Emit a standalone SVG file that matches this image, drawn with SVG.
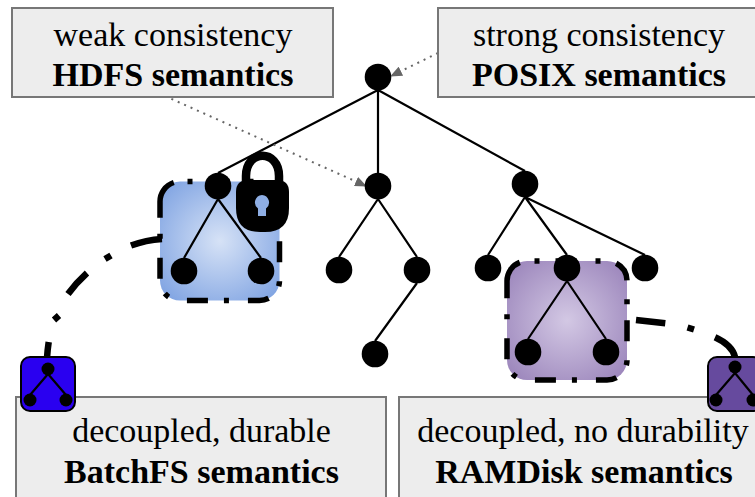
<svg xmlns="http://www.w3.org/2000/svg" width="755" height="497" viewBox="0 0 755 497">
<style>
.box{fill:#ededed;stroke:#777777;stroke-width:2}
.t{font-family:"Liberation Serif","Times New Roman",serif;font-size:34px;text-anchor:middle;fill:#000}
.b{font-weight:bold}
.e{stroke:#000;stroke-width:2.2;fill:none}
.n{fill:#000}
.dd{fill:none;stroke:#000;stroke-width:5.5;stroke-dasharray:5 16 21 19 5 16 21 19 5 16 21 19 5 16 21 19 5 16 21 19 5 16 21 19 5 16 41 18}
.cu{fill:none;stroke:#000;stroke-width:6.5}
.dot{fill:none;stroke:#666;stroke-width:2;stroke-dasharray:2 5}
</style>
<defs>
<radialGradient id="blue" r="0.66"><stop offset="0" stop-color="#d6e2f6"/><stop offset="1" stop-color="#7fa3e2"/></radialGradient>
<radialGradient id="purple" r="0.66"><stop offset="0" stop-color="#d3c8e4"/><stop offset="1" stop-color="#9b85bb"/></radialGradient>
<marker id="ah" markerWidth="12" markerHeight="10" refX="11" refY="5" orient="auto" markerUnits="userSpaceOnUse"><path d="M0 0L12 5L0 10Z" fill="#666"/></marker>
</defs>
<g id="region-blue"><rect x="160" y="181.5" width="119.5" height="119" rx="20" fill="url(#blue)"/><path class="dd" d="M187.5 181.5H259.5A20 20 0 0 1 279.5 201.5V280.5A20 20 0 0 1 259.5 300.5H180A20 20 0 0 1 160 280.5V201.5A20 20 0 0 1 180 181.5Z"/></g>
<g id="region-purple"><rect x="507" y="261" width="120" height="119" rx="20" fill="url(#purple)"/><path class="dd" d="M534.5 261H607A20 20 0 0 1 627 281V360A20 20 0 0 1 607 380H527A20 20 0 0 1 507 360V281A20 20 0 0 1 527 261Z"/></g>
<g id="connectors">
<path class="e" d="M378 90L218 173M378 90V173M378 90L525 171M218 199L184 258M218 199L261 258M378 199L339 257M378 199L417 257M417 283L375 341M525 197L488 255M525 197L567 255M525 197L645 255M567 281L528 339M567 281L606 339"/>
<path class="dot" d="M438 53L391 76" marker-end="url(#ah)"/>
<path class="dot" d="M165 96L366 186" marker-end="url(#ah)"/>
<path class="cu" d="M162 239Q146 240 131 245.5M111 255.5L105 259M87 273Q76 283 68 294M59 315.5L54 320M48.7 342Q47.5 350 47 358"/>
<path class="cu" d="M636 320L665.3 323.3M687.5 327.5L694 329.5M715 337.3Q732 345 735 357"/>
</g>
<g id="lock">
<path d="M246 194V176C246 149 279 149 279 176V194" fill="none" stroke="#000" stroke-width="8.5"/>
<path d="M248 180H277Q289 180 289 192V208Q289 232 265 232H260Q236 232 236 208V192Q236 180 248 180Z" class="n"/>
<path d="M262 195a7.5 7.5 0 0 1 4 13.5v7.5h-8v-7.5a7.5 7.5 0 0 1 4-13.5Z" fill="#8eaee4"/>
</g>
<g id="node-root"><circle cx="378" cy="77" r="13.3" class="n"/></g>
<g id="node-a"><circle cx="218" cy="186" r="13.3" class="n"/></g>
<g id="node-b"><circle cx="378" cy="186" r="13.3" class="n"/></g>
<g id="node-c"><circle cx="525" cy="184" r="13.3" class="n"/></g>
<g id="node-a1"><circle cx="184" cy="271" r="13.3" class="n"/></g>
<g id="node-a2"><circle cx="261" cy="271" r="13.3" class="n"/></g>
<g id="node-b1"><circle cx="339" cy="270" r="13.3" class="n"/></g>
<g id="node-b2"><circle cx="417" cy="270" r="13.3" class="n"/></g>
<g id="node-b3"><circle cx="375" cy="354" r="13.3" class="n"/></g>
<g id="node-c1"><circle cx="488" cy="268" r="13.3" class="n"/></g>
<g id="node-c2"><circle cx="567" cy="268" r="13.3" class="n"/></g>
<g id="node-c3"><circle cx="645" cy="268" r="13.3" class="n"/></g>
<g id="node-c4"><circle cx="528" cy="352" r="13.3" class="n"/></g>
<g id="node-c5"><circle cx="606" cy="352" r="13.3" class="n"/></g>
<g id="box-weak"><rect class="box" x="12" y="8" width="321" height="89"/><text class="t" x="173" y="46">weak consistency</text><text class="t b" x="173" y="86">HDFS semantics</text></g>
<g id="box-strong"><rect class="box" x="438" y="8" width="322" height="89"/><text class="t" x="599" y="46">strong consistency</text><text class="t b" x="599" y="86">POSIX semantics</text></g>
<g id="box-batch"><rect class="box" x="16" y="397" width="370" height="110"/><text class="t" x="201.5" y="442">decoupled, durable</text><text class="t b" x="201.5" y="483">BatchFS semantics</text></g>
<g id="box-ram"><rect class="box" x="399" y="397" width="370" height="110"/><text class="t" x="583" y="442">decoupled, no durability</text><text class="t b" x="584" y="483">RAMDisk semantics</text></g>
<g id="mini-blue"><rect x="21" y="357" width="54" height="54" rx="9" fill="#2a00f0" stroke="#000" stroke-width="2"/><path class="e" d="M48 374L30 395M48 374L66 395"/><circle cx="48" cy="369" r="6.5" class="n"/><circle cx="30" cy="400" r="6.5" class="n"/><circle cx="66" cy="400" r="6.5" class="n"/></g>
<g id="mini-purple"><rect x="708" y="357" width="54" height="54" rx="9" fill="#664a9e" stroke="#000" stroke-width="2"/><path class="e" d="M735 373L716 395M735 373L753 395"/><circle cx="735" cy="367" r="6.5" class="n"/><circle cx="716" cy="400" r="6.5" class="n"/><circle cx="753" cy="400" r="6.5" class="n"/></g>
</svg>
